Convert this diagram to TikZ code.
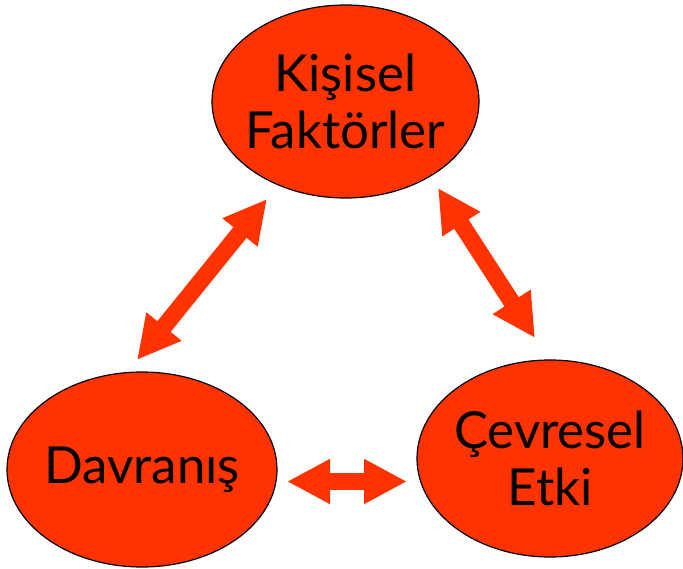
\documentclass[tikz,border=0pt]{standalone}
\usepackage{fontspec}
\setmainfont{Lato}
\usetikzlibrary{shapes.geometric,arrows.meta}
\definecolor{turuncu}{RGB}{255,51,0}
\begin{document}
\begin{tikzpicture}[x=1pt,y=-1pt,
    kutu/.style={ellipse, draw=black, line width=1.2pt, fill=turuncu, inner xsep=-40pt, inner ysep=0pt,
        align=center, font=\fontsize{51}{57}\selectfont},
    ok/.style={turuncu, line width=17pt,
        {Triangle[length=43pt,width=42pt]}-{Triangle[length=43pt,width=42pt]}}]
    \useasboundingbox (0,0) rectangle (683,569);

    % Step 1: elipsler
    \node[kutu, minimum width=267pt, minimum height=193pt] (kisisel) at (345.5,101.5) {Kişisel\\Faktörler};
    \node[kutu, minimum width=270pt, minimum height=195pt] (davranis) at (142,469.5) {Davranış};
    \node[kutu, minimum width=266pt, minimum height=197pt] (cevresel) at (550,458.5) {Çevresel\\Etki};

    % Step 2: ok uçları
    \coordinate (KD) at (267,199);
    \coordinate (DK) at (137,360);
    \coordinate (KC) at (438,188);
    \coordinate (CK) at (535,338);
    \coordinate (DC) at (287,481.5);
    \coordinate (CD) at (407,481.5);

    % Step 3: çift yönlü oklar
    \draw[ok] (KD) -- (DK);
    \draw[ok] (KC) -- (CK);
    \draw[ok] (DC) -- (CD);

\end{tikzpicture}
\end{document}
